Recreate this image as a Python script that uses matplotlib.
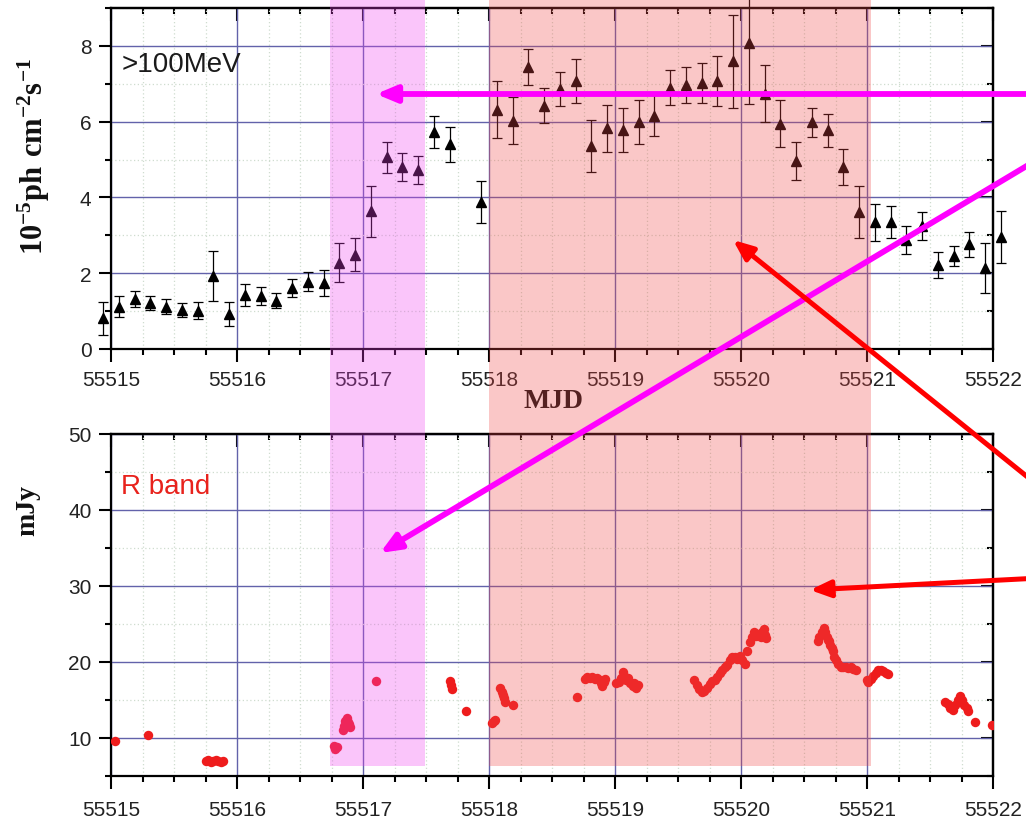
import matplotlib
matplotlib.use("Agg")
import matplotlib.pyplot as plt
from matplotlib.ticker import MultipleLocator, NullFormatter
from matplotlib.patches import Rectangle, FancyArrowPatch
from matplotlib.transforms import blended_transform_factory

plt.rcParams['font.family'] = ['Liberation Sans', 'DejaVu Sans']
plt.rcParams['mathtext.fontset'] = 'custom'
plt.rcParams['mathtext.rm'] = 'Liberation Serif'
plt.rcParams['mathtext.bf'] = 'Liberation Serif:bold'

# ---------------- gamma-ray light curve (>100 MeV, 3-hour bins) ----------------
gamma_mjd = [55514.94, 55515.06, 55515.19, 55515.31, 55515.44, 55515.56, 55515.69,
             55515.81, 55515.94, 55516.06, 55516.19, 55516.31, 55516.44, 55516.56,
             55516.69, 55516.81, 55516.94, 55517.06, 55517.19, 55517.31, 55517.44,
             55517.56, 55517.69, 55517.94, 55518.06, 55518.19, 55518.31, 55518.44,
             55518.56, 55518.69, 55518.81, 55518.94, 55519.06, 55519.19, 55519.31,
             55519.44, 55519.56, 55519.69, 55519.81, 55519.94, 55520.06, 55520.19,
             55520.31, 55520.44, 55520.56, 55520.69, 55520.81, 55520.94, 55521.06,
             55521.19, 55521.31, 55521.44, 55521.56, 55521.69, 55521.81, 55521.94,
             55522.06]
gamma_flux = [0.81, 1.12, 1.31, 1.22, 1.12, 1.03, 1.01, 1.93, 0.92, 1.42, 1.40, 1.28,
              1.61, 1.77, 1.74, 2.28, 2.49, 3.63, 5.06, 4.81, 4.73, 5.73, 5.40, 3.88,
              6.32, 6.03, 7.44, 6.42, 6.87, 7.07, 5.36, 5.82, 5.78, 5.99, 6.16, 6.90,
              6.97, 7.03, 7.08, 7.59, 8.08, 6.74, 5.95, 4.96, 5.98, 5.77, 4.80, 3.62,
              3.34, 3.36, 2.88, 3.25, 2.21, 2.46, 2.77, 2.13, 2.96]
gamma_err = [0.43, 0.28, 0.21, 0.19, 0.20, 0.19, 0.22, 0.66, 0.31, 0.29, 0.23, 0.21,
             0.23, 0.25, 0.34, 0.51, 0.44, 0.68, 0.41, 0.37, 0.37, 0.42, 0.46, 0.56,
             0.76, 0.62, 0.47, 0.46, 0.45, 0.58, 0.69, 0.62, 0.58, 0.58, 0.54, 0.47,
             0.47, 0.53, 0.66, 1.22, 1.62, 0.76, 0.61, 0.50, 0.39, 0.43, 0.47, 0.69,
             0.50, 0.42, 0.37, 0.36, 0.34, 0.26, 0.33, 0.66, 0.68]

# ---------------- optical R-band light curve ----------------
rband_mjd = [55515.03, 55515.29,
             55515.75, 55515.77, 55515.79, 55515.81, 55515.83, 55515.85, 55515.87, 55515.89,
             55516.77, 55516.78, 55516.79,
             55516.84, 55516.85, 55516.86, 55516.87, 55516.88, 55516.89, 55516.90,
             55517.10,
             55517.69, 55517.70, 55517.71,
             55517.82,
             55518.02, 55518.04, 55518.05,
             55518.09, 55518.10, 55518.11, 55518.12, 55518.13,
             55518.19, 55518.70,
             55518.76, 55518.78, 55518.80, 55518.82, 55518.84, 55518.86, 55518.88,
             55518.89, 55518.90, 55518.91, 55518.92,
             55519.01, 55519.03, 55519.05, 55519.06, 55519.07, 55519.09, 55519.10,
             55519.12, 55519.14, 55519.15, 55519.17, 55519.18,
             55519.63, 55519.65, 55519.67, 55519.69, 55519.71, 55519.73, 55519.75,
             55519.77, 55519.79, 55519.81, 55519.83, 55519.85, 55519.87, 55519.89,
             55519.91, 55519.93, 55519.95, 55519.97, 55519.99, 55520.01, 55520.03,
             55520.05, 55520.07, 55520.09, 55520.10, 55520.12, 55520.14, 55520.16,
             55520.17, 55520.18, 55520.19, 55520.20,
             55520.61, 55520.62, 55520.64, 55520.66, 55520.67, 55520.68, 55520.69,
             55520.70, 55520.71, 55520.72, 55520.73, 55520.74, 55520.75, 55520.77,
             55520.79, 55520.81, 55520.83, 55520.85, 55520.87, 55520.89, 55520.91,
             55521.00, 55521.01, 55521.03, 55521.05, 55521.07, 55521.09, 55521.11,
             55521.13, 55521.15, 55521.17,
             55521.62, 55521.64, 55521.66, 55521.68, 55521.70, 55521.72, 55521.74,
             55521.75, 55521.77, 55521.79, 55521.80,
             55521.86, 55521.99]
rband_mjy = [9.6, 10.4,
             7.0, 7.1, 6.9, 7.0, 7.1, 7.0, 6.9, 7.0,
             8.9, 8.5, 8.8,
             11.1, 11.6, 12.3, 12.6, 12.1, 11.8, 11.5,
             17.5,
             17.5, 17.0, 16.5,
             13.5,
             12.0, 12.2, 12.4,
             16.6, 16.0, 15.6, 15.2, 14.8,
             14.4, 15.4,
             17.8, 18.0, 17.9, 18.0, 17.8, 17.9, 17.6,
             17.2, 16.9, 17.4, 17.8,
             17.2, 17.4, 17.9, 18.7, 18.2, 17.6, 17.9,
             17.3, 16.8, 17.2, 16.6, 17.0,
             17.6, 17.0, 16.5, 16.0, 16.2, 16.6, 17.1,
             17.5, 17.6, 18.0, 18.6, 18.9, 19.3, 19.6,
             20.2, 20.7, 20.6, 20.4, 20.8, 20.3, 19.8,
             21.5, 22.6, 23.3, 23.9, 23.4, 23.7, 23.3,
             24.0, 24.3, 23.5, 23.2,
             22.8, 23.3, 23.9, 24.5, 24.0, 23.3, 22.9,
             22.7, 22.2, 21.9, 21.4, 20.7, 20.2, 19.7,
             19.4, 19.3, 19.4, 19.2, 19.3, 19.1, 18.9,
             17.6, 17.4, 17.8, 18.2, 18.6, 18.9, 19.0,
             18.8, 18.5, 18.4,
             14.8, 14.5, 14.0, 13.7, 14.3, 15.0, 15.5,
             15.0, 14.4, 14.0, 13.6,
             12.1, 11.7]

# highlighted intervals (MJD)
violet_span = (55516.74, 55517.49)
salmon_span = (55518.00, 55521.03)

W, H = 1026, 820
fig = plt.figure(figsize=(W / 100, H / 100), dpi=100)


def px_box(left, top, right, bottom):
    return [left / W, 1 - bottom / H, (right - left) / W, (bottom - top) / H]


def fpx(x, y):
    return (x / W, 1 - y / H)


ax1 = fig.add_axes(px_box(111, 9, 993, 350))
ax2 = fig.add_axes(px_box(111, 435, 993, 777))


def style_axes(ax, ylo, yhi, ymajor, yminor, xpad):
    ax.set_xlim(55515, 55522)
    ax.set_ylim(ylo, yhi)
    ax.xaxis.set_major_locator(MultipleLocator(1))
    ax.xaxis.set_minor_locator(MultipleLocator(0.25))
    ax.yaxis.set_major_locator(MultipleLocator(ymajor))
    ax.yaxis.set_minor_locator(MultipleLocator(yminor))
    ax.ticklabel_format(axis='x', useOffset=False, style='plain')
    ax.set_axisbelow(True)
    ax.grid(which='major', color='#6262aa', lw=1.0)
    ax.grid(which='minor', color='#cfdccf', lw=0.9, ls=(0, (1.0, 2.0)))
    ax.tick_params(which='both', direction='out', width=1.5, labelsize=15,
                   labelcolor='#222222', top=False, right=False)
    ax.tick_params(axis='x', which='major', length=9, pad=xpad)
    ax.tick_params(axis='y', which='major', length=9, pad=5)
    ax.tick_params(which='minor', length=4.5)
    for sp in ax.spines.values():
        sp.set_linewidth(1.6)
    # mirrored inward ticks on the top and right spines
    sx = ax.secondary_xaxis('top')
    sx.xaxis.set_major_locator(MultipleLocator(1))
    sx.xaxis.set_minor_locator(MultipleLocator(0.25))
    sx.xaxis.set_major_formatter(NullFormatter())
    sx.tick_params(which='both', direction='in', width=1.5)
    sx.tick_params(which='major', length=9)
    sx.tick_params(which='minor', length=4.5)
    sx.spines['top'].set_linewidth(1.6)
    sy = ax.secondary_yaxis('right')
    sy.yaxis.set_major_locator(MultipleLocator(ymajor))
    sy.yaxis.set_minor_locator(MultipleLocator(yminor))
    sy.yaxis.set_major_formatter(NullFormatter())
    sy.tick_params(which='both', direction='in', width=1.5)
    sy.tick_params(which='major', length=9)
    sy.tick_params(which='minor', length=4.5)
    sy.spines['right'].set_linewidth(1.6)


style_axes(ax1, 0, 9, 2, 1, 6)
style_axes(ax2, 5, 50, 10, 5, 8)

# gamma-ray fluxes with error bars
cont = ax1.errorbar(gamma_mjd, gamma_flux, yerr=gamma_err, fmt='^', color='black',
                    ms=6.5, capsize=3.6, elinewidth=0.9, capthick=0.9, zorder=3)
for part in cont.get_children():
    part.set_clip_on(False)

# optical fluxes
ax2.plot(rband_mjd, rband_mjy, 'o', color='#ee1c1c', ms=6.8, mec='none', zorder=3)

ax1.text(0.012, 0.836, '>100MeV', transform=ax1.transAxes, fontsize=20,
         color='#1a1a1a', ha='left', va='center')
ax2.text(0.011, 0.848, 'R band', transform=ax2.transAxes, fontsize=20,
         color='#e8221c', ha='left', va='center')

# axis titles
fig.text(*fpx(34, 157), r'$\mathbf{10^{-5}ph\ cm^{-2}s^{-1}}$', rotation=90,
         ha='center', va='center', fontsize=22, color='#111111', zorder=0.5)
fig.text(*fpx(28, 510), 'mJy', rotation=90, ha='center', va='center',
         family='Liberation Serif', weight='bold', fontsize=20, color='#111111',
         zorder=0.5)
fig.text(*fpx(553, 402), 'MJD', ha='center', va='center', family='Liberation Serif',
         weight='bold', fontsize=20, color='#111111', zorder=0.5)

# translucent bands spanning both panels
shade_bottom = 1 - 767 / H
band_tr = blended_transform_factory(ax1.transData, fig.transFigure)
for (x0, x1), col in [(violet_span, '#f040f0'), (salmon_span, '#f04848')]:
    fig.add_artist(Rectangle((x0, shade_bottom), x1 - x0, 1 - shade_bottom,
                             transform=band_tr, facecolor=col, edgecolor='none',
                             alpha=0.30, zorder=1))

# pointer arrows entering from the right edge
arrow_specs = [((1040, 95), (376, 95), '#ff00ff', 4.2),
               ((1040, 159), (380, 554), '#ff00ff', 4.2),
               ((1040, 488), (733, 241), '#ff0000', 3.6),
               ((1040, 579), (810, 591), '#ff0000', 3.6)]
for tail, head, col, lw in arrow_specs:
    fig.add_artist(FancyArrowPatch(fpx(*tail), fpx(*head), transform=fig.transFigure,
                                   arrowstyle='-|>,head_length=12,head_width=5',
                                   mutation_scale=1, color=col, lw=lw,
                                   shrinkA=0, shrinkB=0, zorder=5))

fig.savefig('out.png', dpi=100)
